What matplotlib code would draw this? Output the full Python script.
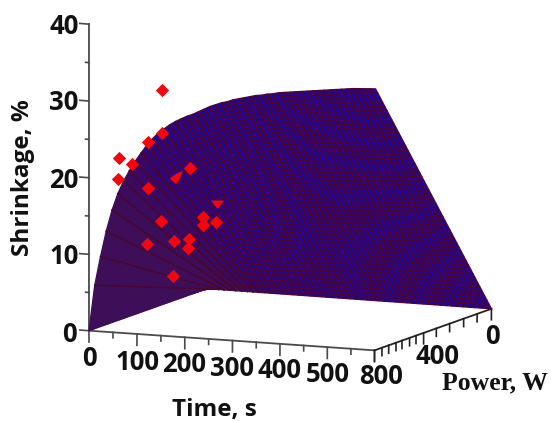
import numpy as np
import matplotlib
matplotlib.use("Agg")
import matplotlib.pyplot as plt
from mpl_toolkits.mplot3d import Axes3D  # noqa

W, H = 551, 421

# Data
time_grid = np.arange(0, 601, 12)
shrink_at_800W = [0, 6.0, 9.8, 13.2, 16.0, 18.2, 19.9, 21.3, 22.6, 23.7, 24.8, 25.7, 26.5,
                  27.1, 27.7, 28.2, 28.6, 29.0, 29.3, 29.7, 30.1, 30.5, 30.8, 31.1, 31.3,
                  31.6, 31.8, 32.0, 32.2, 32.4, 32.5, 32.7, 32.8, 33.0, 33.1, 33.2, 33.3,
                  33.4, 33.5, 33.6, 33.7, 33.8, 33.9, 34.0, 34.1, 34.2, 34.3, 34.35, 34.4,
                  34.45, 34.5]
power_grid = np.arange(0, 801, 16)

pts_time = [151, 151, 122, 63, 90, 61, 210, 122, 237, 266, 149, 237, 208, 178, 120, 206, 176]
pts_power = [800] * 17
pts_shrink = [32.2, 26.5, 25.2, 22.9, 22.2, 20.1, 22.3, 19.2, 15.9, 15.5, 15.0, 14.9,
              12.9, 12.5, 11.9, 11.8, 7.9]
# two points that cut through the surface and show only in part
cut_time_a, cut_power_a, cut_shrink_a = [182], [800], [21.0]
cut_time_b, cut_power_b, cut_shrink_b = [268], [800], [18.0]

time_ticks = np.arange(0, 601, 50)
power_ticks = [800, 749, 703, 653, 612, 560, 516, 464, 377, 286, 190, 98, 0]
power_major = [800, 464, 0]
shrink_ticks = np.arange(0, 41, 5)

# View: camera fitted to where the box corners sit in the picture
anchors_3d = np.array([[0, 800, 0], [600, 800, 0], [600, 0, 0], [0, 0, 0], [0, 800, 40], [600, 800, 34.5]], float)
anchors_px = np.array([[89, 330], [374.5, 351], [491.5, 308], [207, 289.5], [89, 24], [375.5, 89]], float)
scale = np.array([600.0, 800.0, 40.0])
A, b = [], []
for (q, (u, v)) in zip(anchors_3d / scale, anchors_px):
    A.append([*q, 1, 0, 0, 0, 0, -u * q[0], -u * q[1], -u * q[2]]); b.append(u)
    A.append([0, 0, 0, 0, *q, 1, -v * q[0], -v * q[1], -v * q[2]]); b.append(v)
sol = np.linalg.lstsq(np.array(A), np.array(b), rcond=None)[0]
P_px = np.array([sol[:4], sol[4:8], [*sol[8:11], 1.0]])
P_px[:, :3] /= scale

fig = plt.figure(figsize=(W / 100, H / 100), dpi=100)
ax = fig.add_axes([0, 0, 1, 1], projection="3d")
ax.apply_aspect = lambda position=None: None
ax.set_axis_off()
ax.computed_zorder = False


def get_proj():
    inv = ax.transData.inverted()
    (x0, y0), (x1, y1) = inv.transform([[0, H], [W, 0]])
    sx, sy = (x1 - x0) / W, (y1 - y0) / H
    M = np.zeros((4, 4))
    M[0] = sx * P_px[0] + x0 * P_px[2]
    M[1] = sy * P_px[1] + y0 * P_px[2]
    M[2] = -0.5 * P_px[2] + np.array([-1e-3 / 600, 1e-3 / 800, 0, 0])
    M[3] = P_px[2]
    return M


ax.get_proj = get_proj

T, PW = np.meshgrid(time_grid, power_grid)
Z = np.outer(power_grid / 800.0, shrink_at_800W)

# faces: blue towards long times, flat purple in the fan near t = 0
blue = np.array(matplotlib.colors.to_rgba("#1c06a0"))
maroon = np.array(matplotlib.colors.to_rgba("#4e0430"))
purple = np.array(matplotlib.colors.to_rgba("#3e0f58"))
f = np.clip((T - 36) / 84.0, 0, 1)[..., None]
face = purple + (blue - purple) * f
edge = purple + (maroon - purple) * f
surf = ax.plot_surface(T, PW, Z, rstride=1, cstride=1, facecolors=face, linewidth=0.95,
                       shade=False, antialiased=True, zorder=2)
surf.set_edgecolor(edge[:-1, :-1].reshape(-1, 4))

for j in range(1, 10):
    ax.plot(np.full(51, time_grid[j]), power_grid, Z[:, j], color="#4a0530", lw=1.1, zorder=2.5)

axc = "#4a4a4a"
ax.plot([0, 600], [800, 800], [0, 0], color=axc, lw=1.3, zorder=1)
ax.plot([600, 600], [800, 0], [0, 0], color="#222222", lw=1.3, zorder=1)
ax.plot([0, 0], [800, 800], [0, 40], color=axc, lw=1.3, zorder=1)
for t in time_ticks:
    L = 0.72 if t % 100 else 1.5
    ax.plot([t, t], [800, 800], [0, -L], color=axc, lw=1.2, zorder=1)
for p in power_ticks:
    L = 1.45 if p in power_major else 1.05
    ax.plot([600, 600], [p, p], [0, -L], color="#222222", lw=1.2, zorder=1)
for z in shrink_ticks:
    L = 19 if z % 10 == 0 else 7
    ax.plot([0, -L], [800, 800], [z, z], color=axc, lw=1.2, zorder=1)

red = "#f5060f"
ax.scatter(pts_time, pts_power, pts_shrink, marker="D", s=46, c=red, depthshade=False,
           linewidths=0, zorder=3)
marker_a = [(-1, -0.1), (-0.1, -1), (0.4, -0.4), (1, 1), (0, 0.6)]
marker_b = [(-1, 0.45), (1, 0.45), (0, -0.8)]
ax.scatter(cut_time_a, cut_power_a, cut_shrink_a, marker=marker_a, s=90, c=red, depthshade=False,
           linewidths=0, zorder=3)
ax.scatter(cut_time_b, cut_power_b, cut_shrink_b, marker=marker_b, s=90, c=red, depthshade=False,
           linewidths=0, zorder=3)


def put(x, y, s, **kw):
    fig.text(x / W, 1 - y / H, s, ha="center", va="center", **kw)


tick_font = dict(family="Open Sans", fontweight="bold", fontsize=18.5, color="#111111")
for lab, x, y in [("40", 64, 27), ("30", 64, 103), ("20", 64, 180), ("10", 64, 257), ("0", 69, 334)]:
    put(x, y, lab, **tick_font)
for lab, x, y in [("0", 89, 359), ("100", 137.5, 363), ("200", 184, 365), ("300", 232, 368),
                  ("400", 280, 371), ("500", 328, 374), ("800", 381, 376), ("400", 437, 356), ("0", 492, 337)]:
    put(x, y, lab, **tick_font)
put(214, 410, "Time, s", family="Open Sans", fontweight="bold", fontsize=17.5, color="#111111")
put(495, 383, "Power, W", family="Liberation Serif", fontweight="bold", fontsize=18.5, color="#111111")
put(23, 178, "Shrinkage, %", family="Open Sans", fontweight="bold", fontsize=17.5, color="#111111", rotation=90)

fig.savefig("out.png", dpi=100, facecolor="white")
